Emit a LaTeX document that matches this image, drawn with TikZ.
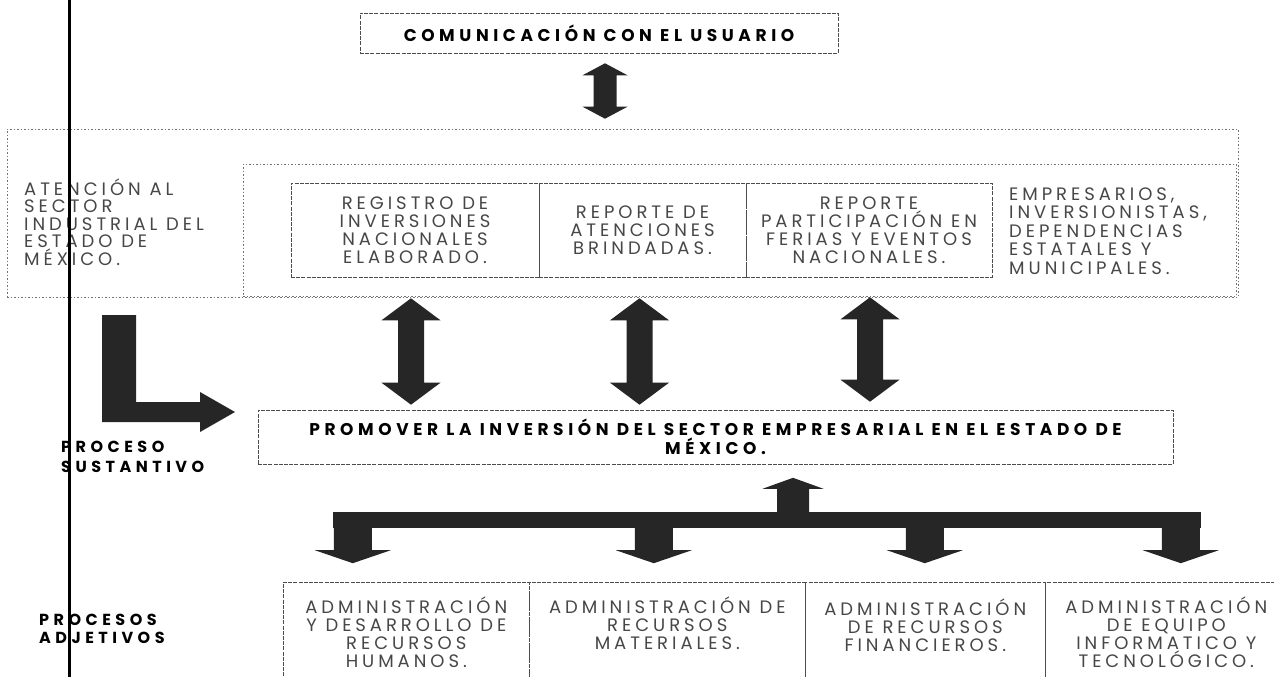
\documentclass[tikz,border=0pt]{standalone}
\usepackage{fontspec}
\setmainfont{Poppins}
\newfontfamily\thinfont{Poppins}[LetterSpace=22]
\newfontfamily\headfont{Poppins}[LetterSpace=27]
\newfontfamily\sidefont{Poppins}[LetterSpace=28]
\usetikzlibrary{calc}

\tikzset{
	boxline/.style={draw=black!70, dash pattern=on 4pt off 1.2pt, line width=0.6pt},
	dotline/.style={draw=black!55, dash pattern=on 1.5pt off 2pt, line width=0.6pt},
	cell/.style={boxline, inner sep=0pt},
	thintext/.style={font=\thinfont\fontsize{18}{18}\selectfont, text=black!72, align=center, inner sep=0pt},
	headtext/.style={font=\headfont\bfseries\fontsize{17}{19}\selectfont, align=center, inner sep=0pt},
	sidetext/.style={font=\sidefont\bfseries\fontsize{16}{20}\selectfont, align=left, inner sep=0pt},
	blockfill/.style={fill=black!85},
}

% vertical block arrow with two heads: top tip, bottom tip, half shaft, half head, head length
\newcommand\dblblock[5]{%
	\fill[blockfill] let \p1=#1, \p2=#2 in
	(\x1,\y1) -- (\x1+#4,\y1-#5) -- (\x1+#3,\y1-#5) -- (\x1+#3,\y2+#5) -- (\x1+#4,\y2+#5) -- (\x1,\y2)
	-- (\x1-#4,\y2+#5) -- (\x1-#3,\y2+#5) -- (\x1-#3,\y1-#5) -- (\x1-#4,\y1-#5) -- cycle;}
% block arrow pointing down: start, tip, half shaft, half head, head length
\newcommand\downblock[5]{%
	\fill[blockfill] let \p1=#1, \p2=#2 in
	(\x1-#3,\y1) -- (\x1+#3,\y1) -- (\x1+#3,\y2+#5) -- (\x1+#4,\y2+#5) -- (\x1,\y2)
	-- (\x1-#4,\y2+#5) -- (\x1-#3,\y2+#5) -- cycle;}
% block arrow pointing up: start, tip, half shaft, half head, head length
\newcommand\upblock[5]{%
	\fill[blockfill] let \p1=#1, \p2=#2 in
	(\x1-#3,\y1) -- (\x1+#3,\y1) -- (\x1+#3,\y2-#5) -- (\x1+#4,\y2-#5) -- (\x1,\y2)
	-- (\x1-#4,\y2-#5) -- (\x1-#3,\y2-#5) -- cycle;}

\begin{document}
\begin{tikzpicture}[x=1pt, y=-1pt]
	\useasboundingbox (0,0) rectangle (1274,677);
	\fill[white] (0,0) rectangle (1274,677);
	
	% Top box
	\node[cell, headtext, minimum width=478, minimum height=40] (usr) at (599,33) {COMUNICACIÓN CON EL USUARIO};
	
	% Frames of the attention block
	\node[dotline, minimum width=1231, minimum height=168, inner sep=0pt] (outer) at (622.5,213) {};
	\node[dotline, minimum width=993, minimum height=132, inner sep=0pt] (inner) at (739.5,230) {};
	
	% Texts and cells
	\node[thintext, align=left, anchor=west, font=\thinfont\fontsize{18}{17.6}\selectfont] (aten) at (24,222) {ATENCIÓN AL\\SECTOR\\INDUSTRIAL DEL\\ESTADO DE\\MÉXICO.};
	\node[cell, thintext, minimum width=248, minimum height=94] (reg) at (415,230) {REGISTRO DE\\INVERSIONES\\NACIONALES\\ELABORADO.};
	\node[cell, thintext, minimum width=207, minimum height=94] (rep) at (642.5,230) {REPORTE DE\\ATENCIONES\\BRINDADAS.};
	\node[cell, thintext, minimum width=246, minimum height=94] (par) at (869,230) {REPORTE\\PARTICIPACIÓN EN\\FERIAS Y EVENTOS\\NACIONALES.};
	\node[thintext, align=left, anchor=west, font=\thinfont\fontsize{18}{18.5}\selectfont] (emp) at (1009,231) {EMPRESARIOS,\\INVERSIONISTAS,\\DEPENDENCIAS\\ESTATALES Y\\MUNICIPALES.};
	
	% Main process box
	\node[cell, headtext, minimum width=915, minimum height=54] (prom) at (715.5,437) {PROMOVER LA INVERSIÓN DEL SECTOR EMPRESARIAL EN EL ESTADO DE\\MÉXICO.};
	
	% Side labels
	\node[sidetext, anchor=west] (sust) at (61,457) {PROCESO\\SUSTANTIVO};
	\node[sidetext, anchor=west, font=\sidefont\bfseries\fontsize{16}{18}\selectfont] (adj) at (39,629) {PROCESOS\\ADJETIVOS};
	
	% Bottom cells
	\node[cell, minimum width=246, minimum height=120, anchor=north west] (rh) at (283,582) {};
	\node[cell, minimum width=276, minimum height=120, anchor=north west] (rm) at (529,582) {};
	\node[cell, minimum width=240, minimum height=120, anchor=north west] (rf) at (805,582) {};
	\node[cell, minimum width=242, minimum height=120, anchor=north west] (rt) at (1045,582) {};
	\node[thintext, anchor=north] (trh) at ($(rh.north)+(0,15)$) {ADMINISTRACIÓN\\Y DESARROLLO DE\\RECURSOS\\HUMANOS.};
	\node[thintext, anchor=north] (trm) at ($(rm.north)+(0,15)$) {ADMINISTRACIÓN DE\\RECURSOS\\MATERIALES.};
	\node[thintext, anchor=north] (trf) at ($(rf.north)+(0,17)$) {ADMINISTRACIÓN\\DE RECURSOS\\FINANCIEROS.};
	\node[thintext, anchor=north] (trt) at ($(rt.north)+(0,15)$) {ADMINISTRACIÓN\\DE EQUIPO\\INFORMATICO Y\\TECNOLÓGICO.};
	
	% Block arrows
	\dblblock{($(usr.south)+(6,10)$)}{($(usr.south |- outer.north)+(6,-10)$)}{11.5pt}{22.5pt}{12pt}
	\dblblock{($(reg.south |- outer.south)+(-4,1)$)}{($(reg.south |- prom.north)+(-4,-5)$)}{13pt}{29.5pt}{22pt}
	\dblblock{($(rep.south |- outer.south)+(-3,1)$)}{($(rep.south |- prom.north)+(-3,-5)$)}{13pt}{29.5pt}{22pt}
	\dblblock{($(par.south |- outer.south)+(1,0)$)}{($(par.south |- prom.north)+(1,-8)$)}{13pt}{29.5pt}{22pt}
	
	% L shaped arrow
	\fill[blockfill] (102,315) -- (136,315) -- (136,402) -- (200,402) -- (200,392) -- (235,412) -- (200,432) -- (200,422) -- (102,422) -- cycle;
	
	% Distribution bar
	\node[blockfill, minimum width=868, minimum height=16, inner sep=0pt] (bus) at (767,520) {};
	\upblock{($(bus.north)+(26,0)$)}{($(bus.north)+(26,-34)$)}{16pt}{30.5pt}{11pt}
	\foreach \dx in {20,321,592,848}{
		\downblock{($(bus.south west)+(\dx,0)$)}{($(bus.south west)+(\dx,35)$)}{19pt}{38pt}{13pt}
	}
	
	% Vertical rule
	\draw[line width=3pt] (69,0) -- (69,677);
\end{tikzpicture}
\end{document}
